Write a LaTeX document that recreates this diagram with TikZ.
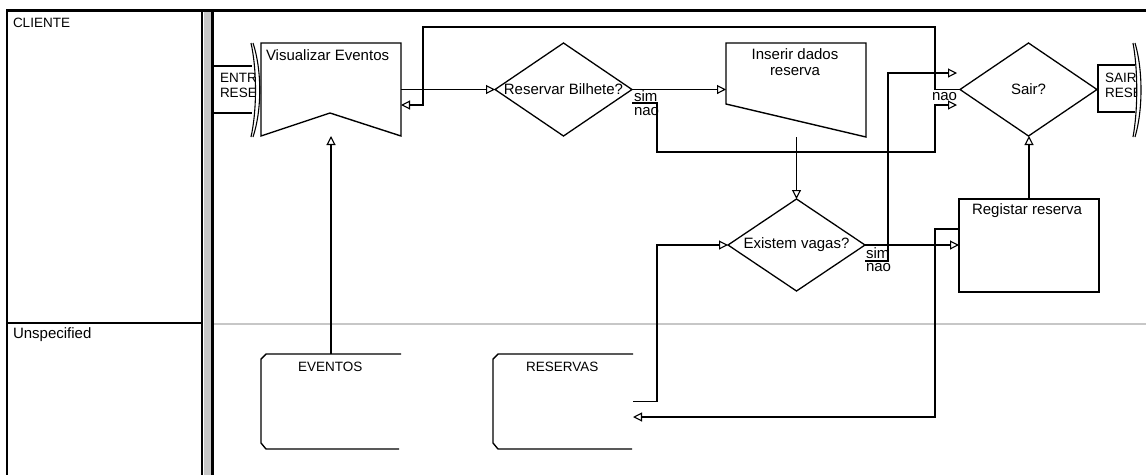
\documentclass[tikz,border=0pt]{standalone}
\usepackage{fontspec}
\setmainfont{Liberation Sans}
\usetikzlibrary{arrows.meta,shapes.geometric,calc}
\begin{document}
\begin{tikzpicture}[x=1pt,y=-1pt,
  every node/.style={font=\fontsize{15}{17}\selectfont, inner sep=0pt, outer sep=0pt},
  caps/.style={font=\fontsize{13.5}{15}\selectfont},
  ln/.style={line width=1.4pt, black},
  arr/.style={ln, -{Triangle[length=9pt,width=9pt,fill=white,line width=1.1pt]}},
  box/.style={minimum width=140, minimum height=93, anchor=north west},
  dia/.style={diamond, draw, line width=1.3pt, minimum width=137, minimum height=93},
  lbl/.style={anchor=west},
]
\useasboundingbox (0,0) rectangle (1146,475);
\fill[white] (0,0) rectangle (1146,475);

% swimlane frame
\fill[black!22] (203.5,10) rectangle (210.5,475);
\draw[line width=3pt] (6,10) -- (1146,10);
\draw[line width=2.4pt] (7,10) -- (7,475);
\draw[line width=2.4pt] (202,10) -- (202,475);
\draw[line width=2.4pt] (212.5,10) -- (212.5,475);
\draw[line width=2.4pt] (7,323) -- (202,323);
\draw[line width=1.4pt, black!22] (214,324) -- (1146,324);
\node[lbl,caps] (lcli) at (13,23) {CLIENTE};
\node[lbl] (luns) at (13,335) {Unspecified};

% entry arrow
\draw[ln] (213.5,66) -- (252,66);
\draw[ln] (213.5,113) -- (252,113);
\draw[line width=1.1pt] (251,43) .. controls (257,70) and (257,110) .. (251,137);
\draw[line width=1.1pt] (253,43) .. controls (262,70) and (262,110) .. (253,137);
\begin{scope}
\clip (214,60) rectangle (254.5,120);
\node[lbl,caps] (ent1) at (220,78) {ENTR};
\node[lbl,caps] (ent2) at (220,93) {RESE};
\end{scope}

% exit arrow
\draw[ln] (1135,65) -- (1098,65) -- (1098,112) -- (1135,112);
\draw[line width=1.1pt] (1133,43) .. controls (1138,70) and (1138,110) .. (1133,137);
\draw[line width=1.1pt] (1135,43) .. controls (1143,70) and (1143,110) .. (1135,137);
\begin{scope}
\clip (1099,60) rectangle (1135,120);
\node[lbl,caps] (ex1) at (1105,78) {SAIR};
\node[lbl,caps] (ex2) at (1105,93) {RESE};
\end{scope}

% Visualizar Eventos
\node[box] (ve) at (261,43) {};
\coordinate (venotch) at (330,113);
\draw[ln] (ve.north west) -- (ve.north east) -- (ve.south east) -- (venotch) -- (ve.south west) -- cycle;
\node[lbl] (vet) at (266,55) {Visualizar Eventos};

% Reservar Bilhete?
\node[dia] (rb) at (563.5,89.5) {};
\node (rbt) at (rb.center) {Reservar Bilhete?};

% Inserir dados reserva
\node[box, minimum height=94] (ins) at (726,43) {};
\coordinate (insbl) at (726,104);
\draw[ln] (ins.north west) -- (ins.north east) -- (ins.south east) -- (insbl) -- cycle;
\node (ins1) at (795,54) {Inserir dados};
\node (ins2) at (795,72) {reserva};

% Sair?
\node[dia] (sa) at (1028.5,89.5) {};
\node (sat) at (sa.center) {Sair?};

% Existem vagas?
\node[dia, minimum height=92] (ex) at (796.5,245) {};
\node (ext) at (ex.center) {Existem vagas?};

% Registar reserva
\node[box, draw, line width=1.4pt] (rg) at (959,199) {};
\node[lbl] (rgt) at (972,211) {Registar reserva};

% data stores
\node[box, minimum height=95] (ev) at (261,354) {};
\draw[ln] (ev.north east) -- (266,354) -- (261,359) -- (261,443) -- (266,449) -- (399,449);
\node[lbl,caps] (evt) at (298,367) {EVENTOS};
\node[box, minimum height=95] (rs) at (493,354) {};
\draw[ln] (rs.north east) -- (498,354) -- (493,359) -- (493,443) -- (498,449) -- (632,449);
\node[lbl,caps] (rst) at (526,367) {RESERVAS};

% connectors
\draw[arr] (ve.east) -- (rb.west);
\draw[arr] (rb.east) -- (rb.east -| ins.west);
\coordinate (rbsim) at (632,103);
\coordinate (sain1) at (957,105);
\draw[arr] (rbsim) -- (657,103) -- (657,152) -- (935,152) -- (935,105) -- (sain1);
\draw[arr] (sa.west) -- (935,89.5) -- (935,27) -- (423,27) -- (423,105) -- (ve.east |- 0,105);
\draw[arr] (ex.north |- ins.south) -- (ex.north);
\draw[arr] (rs.east) -- ++(24,0) |- (ex.west);
\draw[arr] (ex.east) -- (ex.east -| rg.west);
\coordinate (exsim) at (865,261);
\coordinate (sain2) at (957,73);
\draw[arr] (exsim) -- (888,261) -- (888,73) -- (sain2);
\draw[arr] (rg.north) -- (rg.north |- sa.south);
\draw[arr] (rg.west |- 0,229) -- (935,229) -- (935,417) -- (rs.east |- 0,417);
\draw[arr] (ev.north) -- (ev.north |- ve.south);

% branch labels
\node[lbl] (s1) at (634,96) {sim};
\node[lbl] (n1) at (634,112) {nao};
\node[lbl] (s2) at (866,253) {sim};
\node[lbl] (n2) at (866,268) {nao};
\node[lbl] (n3) at (932,97) {nao};
\end{tikzpicture}
\end{document}
